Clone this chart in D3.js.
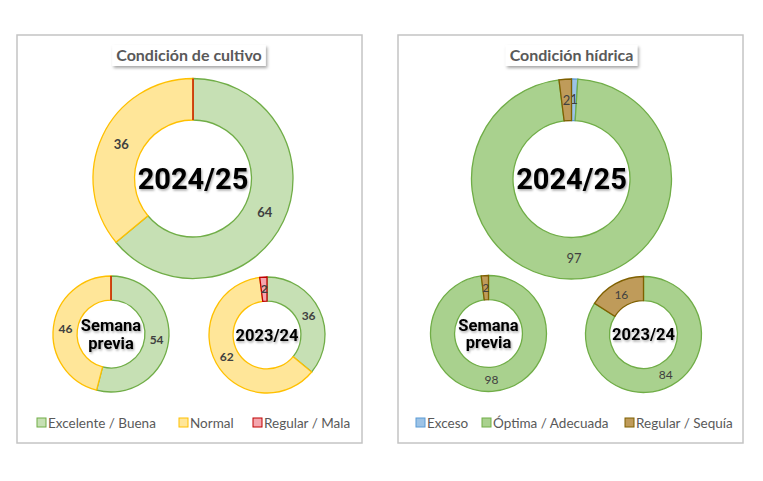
<!DOCTYPE html>
<html>
<head>
<meta charset="utf-8">
<script src="https://cdn.jsdelivr.net/npm/d3@7"></script>
<style>
  body { margin: 0; background: #fff; }
  svg { display: block; }
</style>
</head>
<body>
<div id="chart"></div>
<script>
const width = 763;
const height = 481;

// Data ==================================================================
const cultivoCats = ['Excelente / Buena', 'Normal', 'Regular / Mala'];
const cultivoActual = [64, 36, 0];
const cultivoPrevia = [54, 46, 0];
const cultivoAnterior = [36, 62, 2];

const hidricaCats = ['Exceso', 'Óptima / Adecuada', 'Regular / Sequía'];
const hidricaActual = [1, 97, 2];
const hidricaPrevia = [0, 98, 2];
const hidricaAnterior = [0, 84, 16];

const donutNames = ['2024/25', 'Semana\nprevia', '2023/24'];
// =================================================================

const cultivoFill = ['#c6e0b4', '#ffe699', '#f4a6ae'];
const cultivoStroke = ['#70ad47', '#ffc000', '#c00000'];
const hidricaFill = ['#9dc3e6', '#a9d18e', '#bf9b5a'];
const hidricaStroke = ['#5b9bd5', '#70ad47', '#7f6000'];

const svg = d3.select('#chart').append('svg').attr('width', width).attr('height', height);

// shadows
const defs = svg.append('defs');
defs.append('filter').attr('id', 'boxShadow').attr('x', '-20%').attr('y', '-40%').attr('width', '150%').attr('height', '200%')
	.append('feDropShadow').attr('dx', 1.5).attr('dy', 2).attr('stdDeviation', 1.5)
	.attr('flood-color', '#000').attr('flood-opacity', 0.35);
defs.append('filter').attr('id', 'textShadow').attr('x', '-20%').attr('y', '-40%').attr('width', '150%').attr('height', '200%')
	.append('feDropShadow').attr('dx', 1).attr('dy', 1.5).attr('stdDeviation', 1)
	.attr('flood-color', '#000').attr('flood-opacity', 0.35);

const pie = d3.pie().sort(null).value((d) => d);

function drawDonut(g, values, cx, cy, r, name, fills, strokes, o) {
	const inner = r * 0.585;
	const arc = d3.arc().innerRadius(inner).outerRadius(r);
	const dg = g.append('g').attr('transform', `translate(${cx},${cy})`);
	const arcs = pie(values);

	dg.selectAll('path')
		.data(arcs)
		.enter()
		.append('path')
		.attr('d', arc)
		.attr('fill', (d, i) => fills[i])
		.attr('stroke', (d, i) => strokes[i])
		.attr('stroke-width', 1.3);

	dg.selectAll('.lbl')
		.data(arcs.filter((d) => d.data > 0))
		.enter()
		.append('text')
		.attr('class', 'lbl')
		.attr('transform', (d) => `translate(${arc.centroid(d)})`)
		.attr('text-anchor', 'middle')
		.attr('dy', '0.36em')
		.style('font-family', 'Lato, sans-serif')
		.style('font-size', o.labelSize + 'px')
		.style('font-weight', o.labelWeight)
		.attr('fill', '#404040')
		.text((d) => d.data);

	const lines = name.split('\n');
	const fs = o.nameSize;
	const t = dg.append('text')
		.attr('text-anchor', 'middle')
		.style('font-family', 'Roboto, sans-serif')
		.style('font-weight', 'bold')
		.style('font-size', fs + 'px')
		.attr('fill', '#000')
		.attr('filter', 'url(#textShadow)');
	lines.forEach((line, i) => {
		t.append('tspan')
			.attr('x', 0)
			.attr('y', (i - (lines.length - 1) / 2) * fs * 1.05)
			.attr('dy', '0.36em')
			.text(line);
	});
}

function drawPanel(p) {
	const g = svg.append('g');

	g.append('rect')
		.attr('x', p.x).attr('y', p.y).attr('width', p.w).attr('height', p.h)
		.attr('fill', '#fff').attr('stroke', '#c4c4c4').attr('stroke-width', 1.5);

	// Title with box
	const tg = g.append('g');
	const tBox = tg.append('rect').attr('fill', '#fff').attr('filter', 'url(#boxShadow)');
	const title = tg.append('text')
		.attr('x', p.titleX).attr('y', p.y + 25.5)
		.attr('text-anchor', 'middle')
		.style('font-family', 'Lato, sans-serif')
		.style('font-size', '16px')
		.style('font-weight', 'bold')
		.attr('fill', '#595959')
		.text(p.title);
	const bb = title.node().getBBox();
	tBox.attr('x', bb.x - 4).attr('y', p.y + 10).attr('width', bb.width + 8).attr('height', 21);

	// Donuts
	p.donuts.forEach((d, i) => {
		drawDonut(g, d.values, d.cx, d.cy, d.r, donutNames[i], p.fills, p.strokes, {
			labelSize: d.big ? 13 : 12,
			labelWeight: p.labelWeight,
			nameSize: d.big ? 29 : 16.5,
		});
	});

	// Legend
	p.cats.forEach((c, i) => {
		const lx = p.legendX[i];
		g.append('rect')
			.attr('x', lx).attr('y', p.legendY - 5).attr('width', 9).attr('height', 9)
			.attr('fill', p.fills[i]).attr('stroke', p.strokes[i]).attr('stroke-width', 1);
		g.append('text')
			.attr('x', lx + 11).attr('y', p.legendY)
			.attr('dy', '0.35em')
			.style('font-family', 'Lato, sans-serif')
			.style('font-size', '13.5px')
			.attr('fill', '#595959')
			.text(c);
	});
}

drawPanel({
	x: 17, y: 35, w: 345, h: 408,
	title: 'Condición de cultivo', titleX: 189,
	cats: cultivoCats, fills: cultivoFill, strokes: cultivoStroke,
	labelWeight: 'bold',
	donuts: [
		{ values: cultivoActual, cx: 193, cy: 178.5, r: 100, big: true },
		{ values: cultivoPrevia, cx: 111, cy: 334, r: 58 },
		{ values: cultivoAnterior, cx: 267, cy: 335, r: 58 },
	],
	legendX: [37, 179, 253], legendY: 423,
});

drawPanel({
	x: 398, y: 35, w: 345, h: 408,
	title: 'Condición hídrica', titleX: 571.5,
	cats: hidricaCats, fills: hidricaFill, strokes: hidricaStroke,
	labelWeight: 'normal',
	donuts: [
		{ values: hidricaActual, cx: 571.5, cy: 179, r: 100, big: true },
		{ values: hidricaPrevia, cx: 488.5, cy: 333.5, r: 58 },
		{ values: hidricaAnterior, cx: 643.5, cy: 334.5, r: 58 },
	],
	legendX: [416, 482, 625], legendY: 423,
});
</script>
</body>
</html>
